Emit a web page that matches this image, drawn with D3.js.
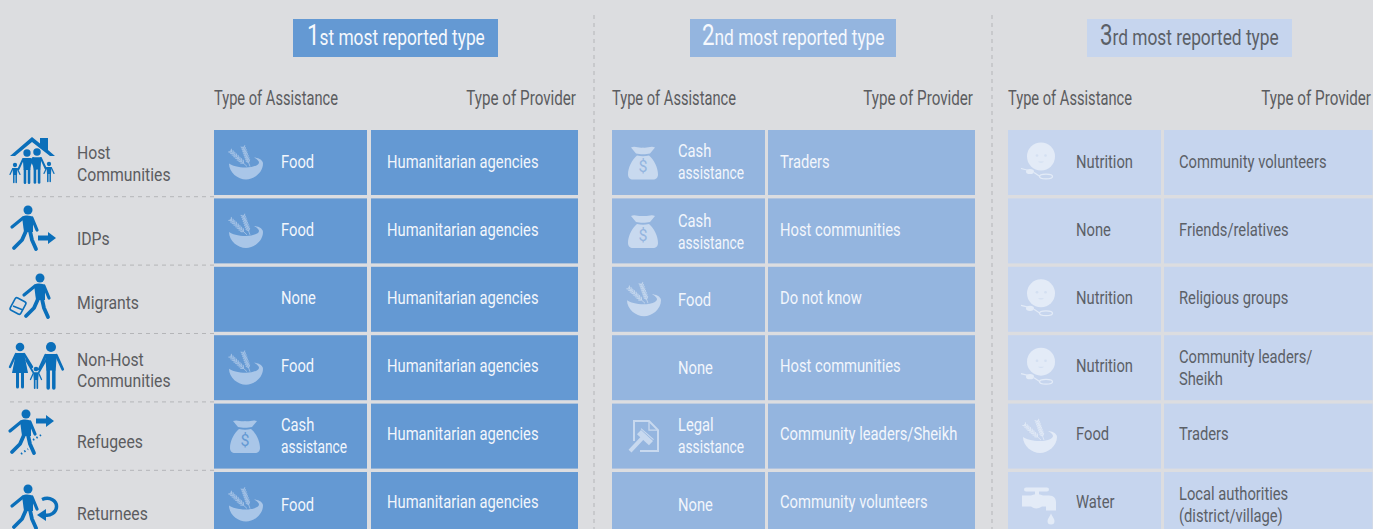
<!DOCTYPE html>
<html>
<head>
    <meta charset="UTF-8">
    <title>Most reported types of assistance</title>
    <style>
        html, body { margin: 0; padding: 0; background: #dcdde0; overflow: hidden; }
        svg { display: block; }
        text { font-family: Roboto, "Open Sans", sans-serif; font-weight: 400; }
    </style>
</head>
<body translate="no">
    <div id="graph-container"></div>

    <script src="https://cdn.jsdelivr.net/npm/d3@7"></script>
    <script>
        // Table content
        const groups = ["Host\nCommunities", "IDPs", "Migrants", "Non-Host\nCommunities", "Refugees", "Returnees"];
        const ranks = ["1", "2", "3"];
        const rankSuffixes = ["st most reported type", "nd most reported type", "rd most reported type"];
        const columnHeads = ["Type of Assistance", "Type of Provider"];

        const assistance1 = ["Food", "Food", "None", "Food", "Cash\nassistance", "Food"];
        const provider1 = ["Humanitarian agencies", "Humanitarian agencies", "Humanitarian agencies", "Humanitarian agencies", "Humanitarian agencies", "Humanitarian agencies"];
        const assistance2 = ["Cash\nassistance", "Cash\nassistance", "Food", "None", "Legal\nassistance", "None"];
        const provider2 = ["Traders", "Host communities", "Do not know", "Host communities", "Community leaders/Sheikh", "Community volunteers"];
        const assistance3 = ["Nutrition", "None", "Nutrition", "Nutrition", "Food", "Water"];
        const provider3 = ["Community volunteers", "Friends/relatives", "Religious groups", "Community leaders/\nSheikh", "Traders", "Local authorities\n(district/village)"];

        // Layout and look
        const width = 1373, height = 529;
        const panels = [
            { assist: assistance1, prov: provider1, x: 214, head: [293, 205, 14], fill: "#6499d3", text: "#f2f6fc", icon: "#a9c6e8", assistShift: [0, 0, 0, 0, 2, 3], assistX: 67, provX: 157, provW: 207, provText: 173, headEnd: 362 },
            { assist: assistance2, prov: provider2, x: 612, head: [690, 206, 12], fill: "#94b5df", text: "#f2f6fc", icon: "#c8d9ef", assistShift: [0, 2, 2, 2, 2, 3], assistX: 66, provX: 156, provW: 207, provText: 168, headEnd: 361 },
            { assist: assistance3, prov: provider3, x: 1008, head: [1087, 205, 13], fill: "#c6d5ee", text: "#5b6067", icon: "#e3ebf7", assistShift: [0, 0, 0, 0, 0, 0], assistX: 68, provX: 156, provW: 208.5, provText: 171, headEnd: 363 }
        ];
        const assistWidth = 153;
        const labelShift = [1.5, 8, 4, 4, 7, 11];

        const svg = d3.select("#graph-container").append("svg")
            .attr("width", width).attr("height", height);

        svg.append("rect").attr("width", width).attr("height", height).attr("fill", "#dcdde0");

        const rowIdx = d3.range(groups.length);
        const y = d3.scaleBand().domain(rowIdx).range([130, 537]).paddingInner(0.05);
        // text sits on a slightly tighter rhythm than the cells
        const textY = d3.scaleLinear().domain([0, 5]).range([162, 502]);

        function label(g, x, cy, str, size, fill, sx = 0.82, lh = 21.8) {
            const lines = str.split("\n");
            lines.forEach((line, i) => {
                // Roboto runs wide on this one word compared with the original face
                const k = line === "assistance" ? sx * 0.93 : sx;
                g.append("text")
                    .attr("transform", `translate(${x},${cy + (i - (lines.length - 1) / 2) * lh}) scale(${k},1)`)
                    .attr("dy", "0.35em")
                    .attr("font-size", size)
                    .attr("fill", fill)
                    .text(line);
            });
        }

        // Cell icons, drawn around the middle of the icon slot
        function bowl(g, c) {
            g.append("path").attr("fill", c)
                .attr("d", "M-17,1C-17,10 -8,17 0,17C8,17 17,10 17,1C17,-3 11,-5 8,-5C12,-3 13,-1 13,0C13,3 6,5 0,5C-8,5 -14,3 -17,1Z");
            [[1, 4, -16, -12], [4, 4, -3, -16]].forEach(s => {
                const angle = Math.atan2(s[3] - s[1], s[2] - s[0]) * 180 / Math.PI;
                g.append("line").attr("x1", s[0]).attr("y1", s[1]).attr("x2", s[2]).attr("y2", s[3])
                    .attr("stroke", c).attr("stroke-width", 0.8);
                d3.range(2, 10).forEach(k => {
                    const px = s[0] + (s[2] - s[0]) * k / 10, py = s[1] + (s[3] - s[1]) * k / 10;
                    [-40, 40].forEach(turn => {
                        g.append("ellipse").attr("cx", 1.8).attr("cy", 0).attr("rx", 1.9).attr("ry", 0.65)
                            .attr("transform", `translate(${px},${py}) rotate(${angle + turn})`)
                            .attr("fill", c).attr("opacity", 0.85);
                    });
                });
            });
        }

        function bag(g, c, bg) {
            g.append("path").attr("fill", c)
                .attr("d", "M-12,-15C-8,-17 -4,-14 0,-15C4,-14 8,-17 12,-15L7,-9C3,-8 -3,-8 -7,-9Z");
            g.append("path").attr("fill", c)
                .attr("d", "M-6,-7C-2,-6 2,-6 6,-7C11,-3 15,5 15,12C15,15 13,17 10,17L-10,17C-13,17 -15,15 -15,12C-15,5 -11,-3 -6,-7Z");
            g.append("text").attr("y", 10).attr("text-anchor", "middle")
                .attr("font-size", 16).attr("font-weight", 700).attr("fill", bg).text("$");
        }

        function nutrition(g, c, bg) {
            g.append("circle").attr("cy", -6).attr("r", 14).attr("fill", c);
            [-4, 4.5].forEach(x => g.append("circle").attr("cx", x).attr("cy", -7).attr("r", 1.3).attr("fill", bg).attr("opacity", 0.5));
            g.append("path").attr("d", "M-3,-1Q0,1.5 3,-1Z").attr("fill", bg).attr("opacity", 0.5);
            g.append("ellipse").attr("cx", -11).attr("cy", 9).attr("rx", 4).attr("ry", 2.6).attr("fill", c);
            g.append("path").attr("d", "M-20,6L-12,8").attr("stroke", c).attr("stroke-width", 1.2);
            g.append("ellipse").attr("cx", 5).attr("cy", 14).attr("rx", 6.5).attr("ry", 2.4)
                .attr("fill", "none").attr("stroke", c).attr("stroke-width", 1.3);
            g.append("path").attr("d", "M-7,10L-1,14").attr("stroke", c).attr("stroke-width", 1.2);
        }

        function faucet(g, c) {
            g.append("rect").attr("x", -15).attr("y", -17).attr("width", 25).attr("height", 4).attr("rx", 2).attr("fill", c);
            g.append("rect").attr("x", -4).attr("y", -15).attr("width", 4).attr("height", 7).attr("fill", c);
            g.append("path").attr("fill", c)
                .attr("d", "M-17,-9L-8,-9Q-2,-12 4,-9L10,-9C15,-9 17,-6 17,-2L17,6L7,6L7,2L3,2Q-3,6 -8,2L-17,2Z");
            g.append("path").attr("fill", c)
                .attr("d", "M12,9C13,12 15.5,14 15.5,16.5A3.5,3.5 0 0 1 8.5,16.5C8.5,14 11,12 12,9Z");
        }

        function legal(g, c) {
            g.append("path").attr("fill", "none").attr("stroke", c).attr("stroke-width", 2)
                .attr("d", "M-11,5L-11,-15L4,-15L13,-6L13,15L-5,15");
            g.append("path").attr("fill", "none").attr("stroke", c).attr("stroke-width", 1.3).attr("d", "M4,-14L4,-6L12,-6");
            g.append("line").attr("x1", -15).attr("y1", 15).attr("x2", 0).attr("y2", -1)
                .attr("stroke", c).attr("stroke-width", 4);
            g.append("line").attr("x1", -6).attr("y1", -4).attr("x2", 6).attr("y2", 7)
                .attr("stroke", c).attr("stroke-width", 6);
            g.append("line").attr("x1", -4).attr("y1", -7.5).attr("x2", 8.5).attr("y2", 3.5)
                .attr("stroke", c).attr("stroke-width", 1.2);
        }

        const cellIcons = {
            Food: { draw: bowl, dx: 32 },
            "Cash\nassistance": { draw: bag, dx: 31 },
            Nutrition: { draw: nutrition, dx: 33 },
            Water: { draw: faucet, dx: 31 },
            "Legal\nassistance": { draw: legal, dx: 33 }
        };

        // Panels
        panels.forEach((p, pi) => {
            const g = svg.append("g");
            const isLight = pi === 2;

            g.append("rect").attr("x", p.head[0]).attr("y", 19).attr("width", p.head[1]).attr("height", 38).attr("fill", p.fill);
            const ht = g.append("text")
                .attr("transform", `translate(${p.head[0] + p.head[2]},39) scale(0.77,1)`)
                .attr("dy", "0.35em")
                .attr("fill", isLight ? "#5b6067" : "#f5f8fd");
            ht.append("tspan").attr("font-size", 29).text(ranks[pi]);
            ht.append("tspan").attr("font-size", 22.5).text(rankSuffixes[pi]);

            label(g, p.x, 98, columnHeads[0], 20, "#5b5c5f", 0.733);
            g.append("text")
                .attr("transform", `translate(${p.x + p.headEnd},98) scale(0.76,1)`)
                .attr("dy", "0.35em").attr("text-anchor", "end")
                .attr("font-size", 20).attr("fill", "#5b5c5f").text(columnHeads[1]);

            rowIdx.forEach(i => {
                g.append("rect").attr("x", p.x).attr("y", y(i)).attr("width", assistWidth).attr("height", y.bandwidth()).attr("fill", p.fill);
                g.append("rect").attr("x", p.x + p.provX).attr("y", y(i)).attr("width", p.provW).attr("height", y.bandwidth()).attr("fill", p.fill);

                const kind = p.assist[i];
                const cy = textY(i);
                if (cellIcons[kind]) {
                    const ig = g.append("g").attr("transform", `translate(${p.x + cellIcons[kind].dx},${y(i) + y.bandwidth() / 2})`);
                    cellIcons[kind].draw(ig, p.icon, p.fill);
                }
                label(g, p.x + p.assistX, cy + p.assistShift[i], kind, 18, p.text);

                const two = p.prov[i].includes("\n");
                label(g, p.x + p.provText, cy + (two ? 1.5 + (i === 5 ? 1.5 : 0) : 0), p.prov[i], 18, p.text);
            });
        });

        // Panel separators
        [594, 992].forEach(x => {
            svg.append("line").attr("x1", x).attr("x2", x).attr("y1", 15).attr("y2", height)
                .attr("stroke", "#b4b5b8").attr("stroke-dasharray", "4,4");
        });

        // Row separators on the left
        rowIdx.slice(1).forEach(i => {
            const ly = y(i) - 1.7;
            svg.append("line").attr("x1", 10).attr("x2", 214).attr("y1", ly).attr("y2", ly)
                .attr("stroke", "#b4b5b8").attr("stroke-dasharray", "4,4");
        });

        // Row labels
        rowIdx.forEach(i => label(svg, 77, textY(i) + labelShift[i], groups[i], 19, "#5b5c5f", 0.83, 21.5));

        // People icons
        const blue = "#0b6fba";
        const limb = (g, d, w) => g.append("path").attr("d", d).attr("fill", "none").attr("stroke", blue)
            .attr("stroke-width", w).attr("stroke-linecap", "round").attr("stroke-linejoin", "round");

        function walker(g) {
            g.append("circle").attr("r", 4.5).attr("fill", blue);
            g.append("path").attr("fill", blue).attr("d", "M-6,7C-3,5 3,5 5,8L5,22L-4,22Z");
            limb(g, "M-5,8L-16,17", 3.2);
            limb(g, "M4,8L9,20", 3.2);
            limb(g, "M-2,21L-6,30L-14,38", 3.8);
            limb(g, "M2,21L4,30L8,39", 3.8);
        }

        function stander(g, s, dress) {
            g.append("circle").attr("r", 4.3 * s).attr("fill", blue);
            if (dress) {
                g.append("path").attr("fill", blue).attr("d", "M-4,6L4,6L8,26L-8,26Z");
                limb(g, "M-4,7L-10,20", 2.4);
                limb(g, "M4,7L12,20", 2.4);
                limb(g, "M-2.5,26L-2.5,40", 3);
                limb(g, "M2.5,26L2.5,40", 3);
            } else {
                g.append("path").attr("fill", blue).attr("transform", `scale(${s})`).attr("d", "M-5,6L5,6L4,20L-4,20Z");
                limb(g, `M${-4.5 * s},${7 * s}L${-10 * s},${19 * s}`, 2.4 * s);
                limb(g, `M${4.5 * s},${7 * s}L${10 * s},${19 * s}`, 2.4 * s);
                limb(g, `M${-2.4 * s},${20 * s}L${-2.4 * s},${35 * s}`, 3 * s);
                limb(g, `M${2.4 * s},${20 * s}L${2.4 * s},${35 * s}`, 3 * s);
            }
        }

        const at = (x, yy) => svg.append("g").attr("transform", `translate(${x},${yy})`);
        const arrow = "M0,-2.5L10,-2.5L10,-6L18,0L10,6L10,2.5L0,2.5Z";

        // Host communities: house and family
        svg.append("path").attr("fill", blue).attr("d", "M10,156L32,137L40,143.5L40,138L48,138L48,150L55,156L50,156L32,142L15,156Z");
        stander(at(27, 153), 0.85);
        stander(at(37, 152), 0.87);
        stander(at(15, 165), 0.5);
        stander(at(49, 164), 0.5);

        // IDPs
        walker(at(28, 210));
        at(38, 238).append("path").attr("fill", blue).attr("d", arrow);

        // Migrants
        walker(at(40, 278));
        at(18, 306).append("rect").attr("x", -6).attr("y", -7).attr("width", 12).attr("height", 14).attr("rx", 2)
            .attr("transform", "rotate(28)").attr("fill", "none").attr("stroke", blue).attr("stroke-width", 1.6);
        at(18, 306).append("path").attr("d", "M-5,0L5,4").attr("stroke", blue).attr("stroke-width", 1.4);

        // Non-host communities
        stander(at(20, 347), 1, true);
        stander(at(51, 347), 1.17);
        stander(at(36, 369), 0.55);
        limb(svg, "M26,360L33,372", 1.8);
        limb(svg, "M46,360L39,372", 1.8);

        // Refugees
        walker(at(26, 414));
        at(36, 421).append("path").attr("fill", blue).attr("d", arrow);
        limb(svg, "M33,440L41,435", 2).attr("stroke-dasharray", "1.5,2.5").attr("stroke-linecap", "butt");
        limb(svg, "M21,454L28,449", 2).attr("stroke-dasharray", "1.5,2.5").attr("stroke-linecap", "butt");

        // Returnees
        walker(at(28, 489));
        svg.append("path").attr("fill", "none").attr("stroke", blue).attr("stroke-width", 3.5)
            .attr("d", "M42,499.5C50,496 57,501 56.5,507C56,513 50,516 45,515");
        svg.append("path").attr("fill", blue).attr("d", "M37,515L46,509L46,521Z");
    </script>
</body>
</html>
